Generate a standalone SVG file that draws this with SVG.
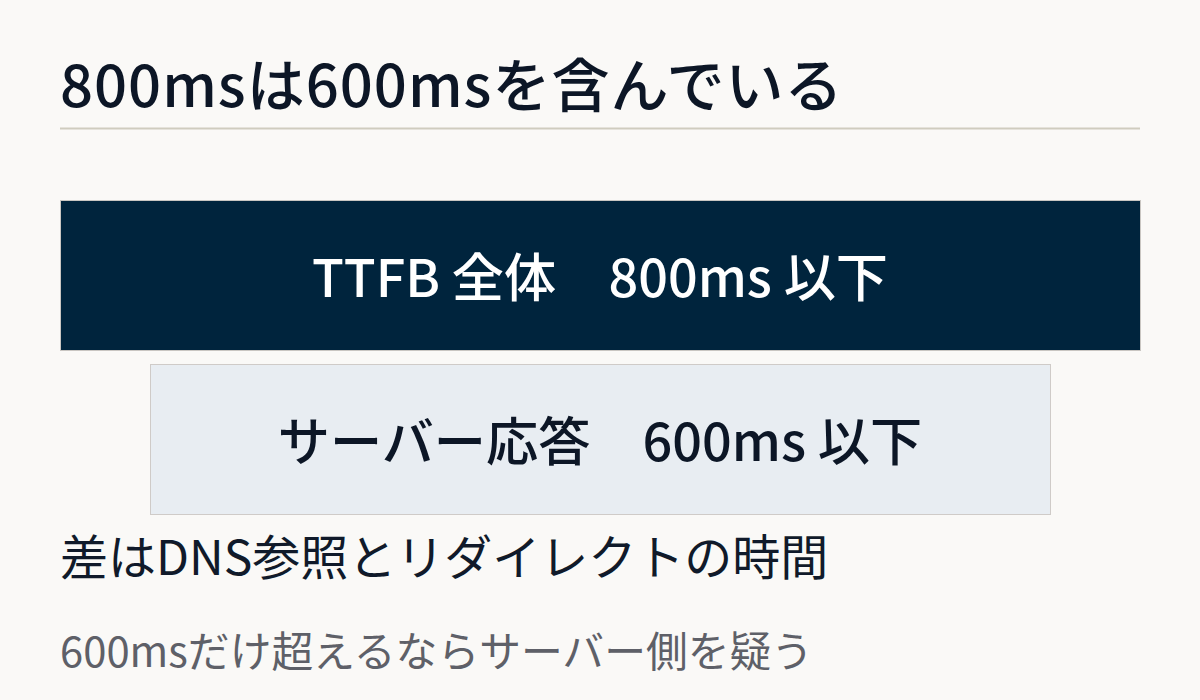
<svg xmlns="http://www.w3.org/2000/svg" width="1200" height="700" viewBox="0 0 1200 700">
<style>
text{font-family:"Noto Sans CJK JP","Noto Sans",sans-serif}
.title{font-size:58px;font-weight:500;fill:#0c1626;letter-spacing:1px}
.big{font-size:52.2px;font-weight:500;text-anchor:middle}
.note{font-size:48px;fill:#101a2a}
.sub{font-size:41.8px;fill:#5e6068}
</style>
<rect width="1200" height="700" fill="#faf9f7"/>
<g id="title">
<text class="title" x="60" y="107">800msは600msを含んでいる</text>
<line x1="60" y1="128.5" x2="1140" y2="128.5" stroke="#cfccbf" stroke-width="2"/>
</g>
<g id="ttfb">
<rect x="60.5" y="200.5" width="1080" height="150" fill="#00243d" stroke="#c9c6c2" stroke-width="1"/>
<text class="big" x="600" y="297" fill="#ffffff">TTFB 全体　800ms 以下</text>
</g>
<g id="server">
<rect x="150.5" y="364.5" width="900" height="150" fill="#e8edf2" stroke="#cfcbc8" stroke-width="1"/>
<text class="big" x="600" y="461" fill="#0c1626" font-weight="700">サーバー応答　600ms 以下</text>
</g>
<g id="notes">
<text class="note" x="60" y="575">差はDNS参照とリダイレクトの時間</text>
<text class="sub" x="60" y="667">600msだけ超えるならサーバー側を疑う</text>
</g>
<g id="connectors"/>
</svg>
